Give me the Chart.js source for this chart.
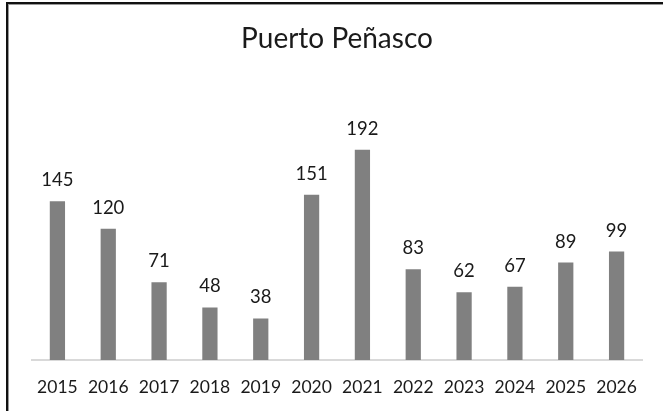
<!DOCTYPE html>
<html>
<head>
<meta charset="utf-8">
<script src="https://cdn.jsdelivr.net/npm/chart.js@4/dist/chart.umd.min.js"></script>
<style>
  html, body { margin: 0; padding: 0; background: #fff; overflow: hidden; }
  #wrap { position: relative; width: 663px; height: 411px; overflow: hidden; }
  #frame { position: absolute; left: 6px; top: 2px; width: 720px; height: 470px; border-left: 2px solid #111; border-top: 2px solid #111; box-shadow: 1px 1px 0 #999 inset; }
  canvas { position: absolute; left: 0; top: 0; }
</style>
</head>
<body>
<div id="wrap">
  <canvas id="c" width="663" height="411"></canvas>
  <div id="frame"></div>
</div>
<script>
const title = "Puerto Peñasco";
const years = ["2015","2016","2017","2018","2019","2020","2021","2022","2023","2024","2025","2026"];
const values = [145, 120, 71, 48, 38, 151, 192, 83, 62, 67, 89, 99];

const valueLabels = {
  id: 'valueLabels',
  afterDatasetsDraw(chart) {
    const ctx = chart.ctx;
    const meta = chart.getDatasetMeta(0);
    ctx.save();
    ctx.font = '18.5px Lato';
    ctx.fillStyle = '#1a1a1a';
    ctx.textAlign = 'center';
    ctx.textBaseline = 'alphabetic';
    meta.data.forEach((el, i) => {
      ctx.fillText(String(values[i]), el.x, el.y - 15);
    });
    ctx.restore();
  }
};

new Chart(document.getElementById('c'), {
  type: 'bar',
  data: {
    labels: years,
    datasets: [{
      data: values,
      backgroundColor: '#808080',
      borderWidth: 0,
      categoryPercentage: 1.0,
      barPercentage: 0.3
    }]
  },
  options: {
    responsive: false,
    animation: false,
    layout: { padding: { left: 32, right: 21, top: 0, bottom: 0 } },
    plugins: {
      legend: { display: false },
      tooltip: { enabled: false },
      title: {
        display: true,
        text: title,
        color: '#1a1a1a',
        font: { family: 'Lato', size: 28, weight: 'normal' },
        padding: { top: 22, bottom: 34 }
      }
    },
    scales: {
      y: { display: false, min: 0, max: 247 },
      x: {
        afterFit(scale) { scale.height = 51; },
        grid: { display: false, drawTicks: false },
        border: { display: true, color: '#d9d9d9', width: 2 },
        ticks: { color: '#1a1a1a', font: { family: 'Lato', size: 17.5 }, padding: 17, maxRotation: 0, autoSkip: false }
      }
    }
  },
  plugins: [valueLabels]
});
</script>
</body>
</html>
